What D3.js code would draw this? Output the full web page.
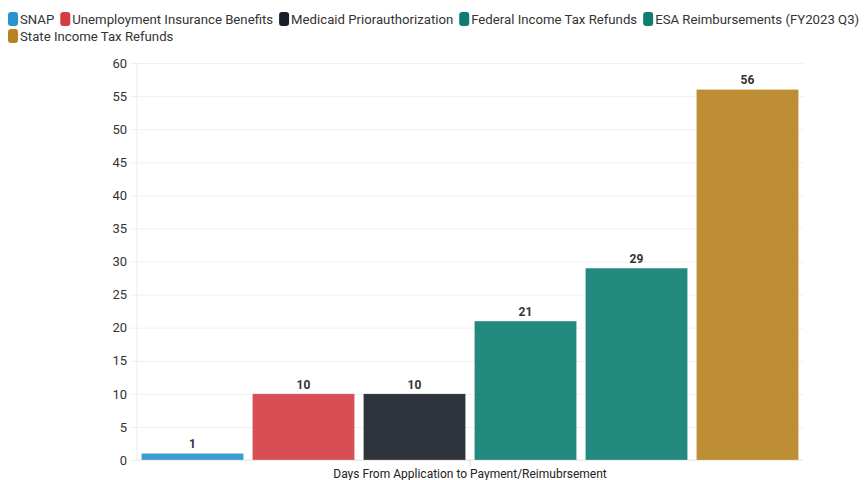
<!DOCTYPE html>
<html>
<head>
<script src="https://d3js.org/d3.v7.min.js"></script>
<style>
  body { margin: 0; background: #fff; font-family: Roboto, "Noto Sans", sans-serif; }
</style>
</head>
<body>
<div id="chart"></div>
<script>
const categories = ['SNAP', 'Unemployment Insurance Benefits', 'Medicaid Priorauthorization',
  'Federal Income Tax Refunds', 'ESA Reimbursements (FY2023 Q3)', 'State Income Tax Refunds']
const values = [1, 10, 10, 21, 29, 56]
const colours = ['#2a92cc', '#d43c43', '#1a2029', '#0d7c71', '#0d7c71', '#b78320']
const yTicks = [0, 5, 10, 15, 20, 25, 30, 35, 40, 45, 50, 55, 60]
const xTitle = 'Days From Application to Payment/Reimubrsement'

const w = 868
const h = 480
const margin = {top: 63, right: 65, bottom: 20, left: 137}

const svg = d3.select('#chart').append('svg')
  .attr('width', w)
  .attr('height', h)
  .style('font-family', 'Roboto, sans-serif')

const xScale = d3.scaleBand()
  .domain(categories)
  .range([margin.left, w - margin.right])
  .paddingInner(0.08)
  .paddingOuter(0.04)

const yScale = d3.scaleLinear()
  .domain([0, 60])
  .range([h - margin.bottom, margin.top])

// grid + y axis
const yAxis = d3.axisLeft(yScale)
  .tickValues(yTicks)
  .tickSize(-(w - margin.right - margin.left) - 7)
  .tickPadding(10)

const gy = svg.append('g')
  .attr('transform', 'translate(' + (margin.left - 7) + ',0)')
  .call(yAxis)
gy.select('.domain').remove()
gy.selectAll('.tick line').attr('stroke', '#f0f0f0')
gy.selectAll('.tick text')
  .attr('x', -3)
  .attr('fill', '#333')
  .style('font-size', '13px')
  .style('font-family', 'Roboto, sans-serif')

svg.append('line')
  .attr('x1', margin.left).attr('x2', margin.left)
  .attr('y1', margin.top).attr('y2', h - margin.bottom)
  .attr('stroke', '#ececec')

// bottom axis line with a single centre tick
const xMid = (margin.left + w - margin.right) / 2
svg.append('line')
  .attr('x1', margin.left).attr('x2', w - margin.right)
  .attr('y1', h - margin.bottom).attr('y2', h - margin.bottom)
  .attr('stroke', '#e6e6e6')
svg.append('line')
  .attr('x1', xMid).attr('x2', xMid)
  .attr('y1', h - margin.bottom).attr('y2', h - margin.bottom + 6)
  .attr('stroke', '#ddd')

svg.append('text')
  .attr('x', xMid)
  .attr('y', h - 2)
  .attr('text-anchor', 'middle')
  .attr('fill', '#222')
  .style('font-size', '12px')
  .text(xTitle)

// bars
svg.selectAll('rect.bar')
  .data(values)
  .enter()
  .append('rect')
  .attr('class', 'bar')
  .attr('x', (d, i) => xScale(categories[i]))
  .attr('y', d => yScale(d))
  .attr('width', xScale.bandwidth())
  .attr('height', d => yScale(0) - yScale(d))
  .attr('fill', (d, i) => colours[i])
  .attr('fill-opacity', 0.91)
  .attr('stroke', '#fff')
  .attr('stroke-opacity', 0.5)
  .attr('stroke-width', 0.5)

svg.selectAll('text.val')
  .data(values)
  .enter()
  .append('text')
  .attr('class', 'val')
  .attr('x', (d, i) => xScale(categories[i]) + xScale.bandwidth() / 2)
  .attr('y', d => yScale(d) - 5)
  .attr('text-anchor', 'middle')
  .attr('fill', '#333')
  .style('font-size', '12px')
  .style('font-weight', 'bold')
  .text(d => d)

// legend
const legend = svg.append('g')
let lx = 8, ly = 0
categories.forEach((c, i) => {
  const item = legend.append('g')
  const t = item.append('text')
    .attr('x', 12)
    .attr('y', 24)
    .attr('fill', '#333')
    .style('font-size', '13.2px')
    .text(c)
  const tw = t.node().getComputedTextLength()
  if (lx + 12 + tw > w + 1) { lx = 8; ly += 17 }
  item.attr('transform', 'translate(' + lx + ',' + ly + ')')
  item.insert('rect', 'text')
    .attr('x', 0).attr('y', 12)
    .attr('width', 10).attr('height', 14)
    .attr('rx', 3)
    .attr('fill', colours[i])
  lx += 12 + tw + 6
})
</script>
</body>
</html>
